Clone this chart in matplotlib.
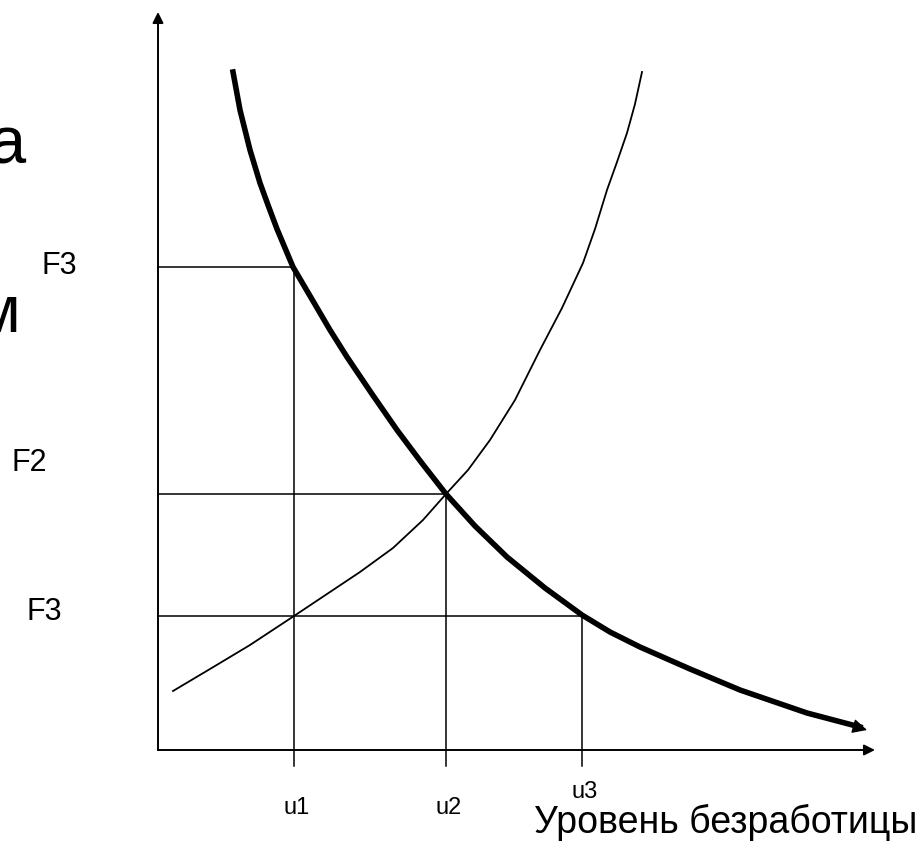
import matplotlib
matplotlib.use("Agg")
import matplotlib.pyplot as plt

plt.rcParams['font.family'] = ['Liberation Sans', 'DejaVu Sans']

# thick falling curve (origin at axes corner)
thick_x = [75, 82, 92, 102, 110, 119, 135, 155, 172, 189, 214, 239, 263, 288,
           317, 349, 387, 424, 452, 482, 532, 582, 649, 702]
thick_y = [678, 640, 600, 567, 545, 521, 483, 449, 420, 393, 356, 320, 288, 256,
           224, 193, 162, 135, 118, 103, 81, 60, 37, 23]

# thin rising curve
thin_x = [15, 52, 92, 136, 172, 202, 235, 265, 288, 310, 332, 357, 382, 404,
          425, 437, 449, 459, 469, 477, 484]
thin_y = [59, 81, 105, 134, 158, 178, 202, 230, 256, 280, 310, 350, 400, 442,
          487, 521, 560, 588, 617, 646, 678]

# guide levels
u_vals = [136, 288, 424]
u_labels = ['u1', 'u2', 'u3']
u_label_y = [-58, -58, -42]
f_vals = [483, 256, 134]          # curve heights at u1, u2, u3
f_labels = ['F3', 'F2', 'F3']
f_label_x = [-99, -129, -114]
f_label_y = [484, 287, 138]

fig = plt.figure(figsize=(9.22, 8.48), dpi=100)
ax = fig.add_axes([0, 0, 1, 1])
ax.set_xlim(-158, 764)
ax.set_ylim(-98, 750)
ax.axis('off')

# axes with arrows
arrow = dict(arrowstyle='-|>', lw=1.4, color='black', mutation_scale=16, shrinkA=0, shrinkB=0)
ax.annotate('', xy=(0, 738), xytext=(0, 0), arrowprops=arrow)
ax.annotate('', xy=(717, 0), xytext=(0, 0), arrowprops=arrow)

# guide lines
for u, f in zip(u_vals, f_vals):
    ax.plot([u, u], [-16, f], color='black', lw=1.1)
    ax.plot([0, u], [f, f], color='black', lw=1.1)

# curves
ax.plot(thin_x, thin_y, color='black', lw=1.3)
ax.plot(thick_x, thick_y, color='black', lw=4, solid_joinstyle='round')
ax.annotate('', xy=(thick_x[-1] + 7, thick_y[-1] - 3), xytext=(thick_x[-2], thick_y[-2]),
            arrowprops=dict(arrowstyle='-|>', lw=1, color='black', mutation_scale=22,
                            shrinkA=0, shrinkB=0))

# labels
for fx, fy, lab in zip(f_label_x, f_label_y, f_labels):
    ax.text(fx, fy, lab, fontsize=22, ha='center', va='center')
for u, uy, lab in zip(u_vals, u_label_y, u_labels):
    ax.text(u + 3, uy, lab, fontsize=17, ha='center', va='center')
ax.text(568, -72, 'Уровень безработицы', fontsize=27, ha='center', va='center')

# cut-off title letters on the left
ax.text(-133, 587, 'а', fontsize=48, ha='right', va='baseline')
ax.text(-138, 418, 'м', fontsize=48, ha='right', va='baseline')

fig.savefig('out.png', dpi=100)
